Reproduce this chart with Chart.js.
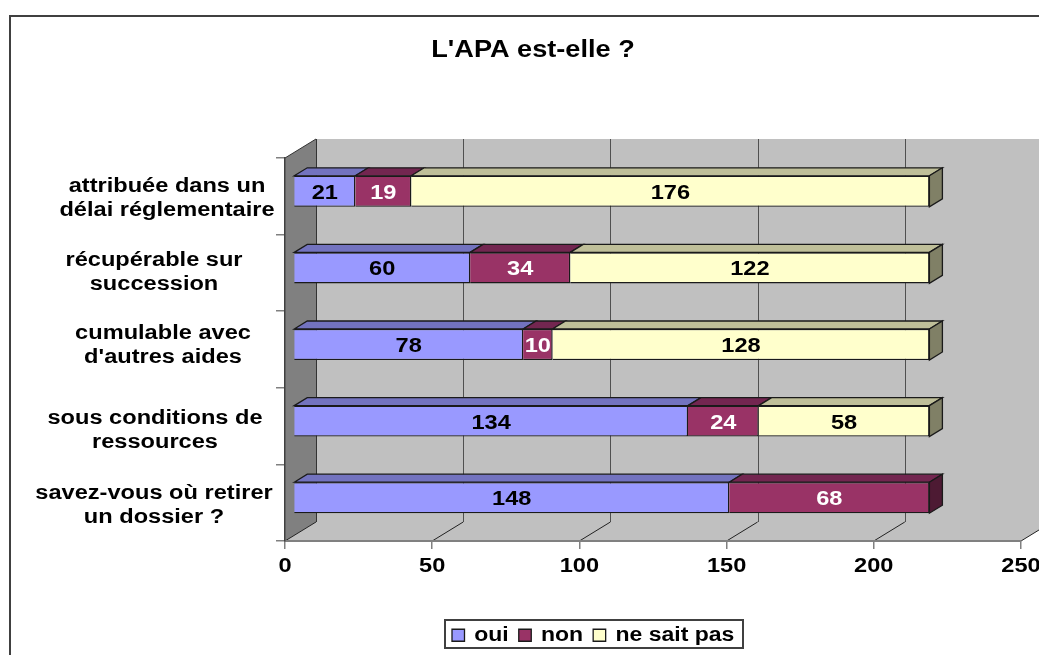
<!DOCTYPE html>
<html><head><meta charset="utf-8">
<style>html,body{margin:0;padding:0;background:#fff;overflow:hidden}canvas{display:block}</style>
<script src="https://cdn.jsdelivr.net/npm/chart.js@4"></script>
</head><body><div style="width:1039px;height:655px"><canvas id="c" width="1039" height="655"></canvas></div>
<script>
const categories = [
  ["attribuée dans un","délai réglementaire"],
  ["récupérable sur","succession"],
  ["cumulable avec","d'autres aides"],
  ["sous conditions de","ressources"],
  ["savez-vous où retirer","un dossier ?"]
];
const oui = [21,60,78,134,148];
const non = [19,34,10,24,68];
const neSaitPas = [176,122,128,58,null];
const xTicks = [0,50,100,150,200,250];

// presentation
const FF = '"Liberation Sans", Arial, sans-serif';
const FS = 20;
const STRETCH = 1.18;
const labelCx = [167,154,163,155,154];
const labelCy = [198.5,272.5,345.5,430.5,505.5];
const WALL = {dx:31, dy:-19};
const BAR = {ox:8.5, oy:-5, dx:13, dy:-8};

const canvas = document.getElementById('c');
const ctx = canvas.getContext('2d');
const rawFill = ctx.fillText.bind(ctx), rawMeasure = ctx.measureText.bind(ctx);
ctx.fillText = (t,x,y)=>{ctx.save();ctx.translate(x,y);ctx.scale(STRETCH,1);rawFill(t,0,0);ctx.restore();};
ctx.measureText = t=>({width:rawMeasure(t).width*STRETCH});

function poly(c,pts,fill,stroke,lw){
  c.beginPath();pts.forEach((p,i)=>i?c.lineTo(p[0],p[1]):c.moveTo(p[0],p[1]));c.closePath();
  if(fill){c.fillStyle=fill;c.fill();}
  if(stroke){c.strokeStyle=stroke;c.lineWidth=lw||1;c.stroke();}
}
const threeD = {
  id:'threeD',
  afterLayout(ch){
    const l=ch.legend; l.left=442; l.right=1039; l.top=615.5;
    const t=ch.titleBlock; t.left=430; t.right=636;
  },
  beforeDraw(ch){
    const c=ch.ctx,a=ch.chartArea,xs=ch.scales.x,ys=ch.scales.y;
    c.save();
    c.fillStyle='#fff';c.fillRect(0,0,ch.width,ch.height);
    c.strokeStyle='#404040';c.lineWidth=2;c.strokeRect(10,16,1100,700);
    const bx=a.left+WALL.dx, by=a.bottom+WALL.dy, ty=a.top+WALL.dy, rx=a.right+WALL.dx;
    poly(c,[[bx,ty],[rx,ty],[rx,by],[bx,by]],'#C0C0C0');
    poly(c,[[a.left,a.bottom],[bx,by],[rx,by],[a.right,a.bottom]],'#C0C0C0');
    poly(c,[[a.left,a.top],[bx,ty],[bx,by],[a.left,a.bottom]],'#808080');
    xs.ticks.forEach((t,i)=>{
      const x=xs.getPixelForTick(i);
      c.strokeStyle= i===0 ? '#333':'#505050';c.lineWidth=1;
      c.beginPath();c.moveTo(Math.round(x+WALL.dx)+.5,ty);c.lineTo(Math.round(x+WALL.dx)+.5,by);c.stroke();
      c.strokeStyle='#222';
      c.beginPath();c.moveTo(x+WALL.dx,by);c.lineTo(x,a.bottom);c.stroke();
    });
    c.strokeStyle='#333';c.lineWidth=1;
    c.beginPath();c.moveTo(a.left,a.top);c.lineTo(bx,ty);c.stroke();
    // legend frame
    c.fillStyle='#fff';c.fillRect(445,620,298,28);
    c.strokeStyle='#404040';c.lineWidth=2;c.strokeRect(445,620,298,28);
    c.restore();
    ys.getLabelItems().forEach((it,i)=>{
      it.options.textAlign='center';
      it.options.translation=[labelCx[i],labelCy[i]];
    });
  },
  beforeDatasetsDraw(ch){
    const c=ch.ctx;
    c.save();
    c.translate(BAR.ox,BAR.oy);
    const tops=['#7373BF','#732650','#BFBF99'], sides=['#4D4D80','#4D1A33','#808066'];
    categories.forEach((_,row)=>{
      let last=-1;
      ch.data.datasets.forEach((ds,d)=>{
        if(ds.data[row]==null) return; last=d;
        const b=ch.getDatasetMeta(d).data[row], y0=b.y-b.height/2;
        poly(c,[[b.base,y0],[b.base+BAR.dx,y0+BAR.dy],[b.x+BAR.dx,y0+BAR.dy],[b.x,y0]],tops[d],'#1a1a1a',1.3);
      });
      const b=ch.getDatasetMeta(last).data[row], y0=b.y-b.height/2, y1=b.y+b.height/2;
      poly(c,[[b.x,y0],[b.x+BAR.dx,y0+BAR.dy],[b.x+BAR.dx,y1+BAR.dy],[b.x,y1]],sides[last],'#1a1a1a',1.3);
    });
  },
  afterDatasetsDraw(ch){
    const c=ch.ctx;
    c.font='bold '+FS+'px '+FF;c.textAlign='center';c.textBaseline='middle';
    ch.data.datasets.forEach((ds,d)=>{
      ch.getDatasetMeta(d).data.forEach((b,row)=>{
        if(ds.data[row]==null) return;
        c.fillStyle = d===1 ? '#fff':'#000';
        c.fillText(String(ds.data[row]),(b.x+b.base)/2,b.y+2);
      });
    });
    c.restore();
  }
};

new Chart(canvas,{
  type:'bar',
  plugins:[threeD],
  data:{labels:categories,datasets:[
    {label:'oui',data:oui,backgroundColor:'#9999FF'},
    {label:'non',data:non,backgroundColor:'#993366'},
    {label:'ne sait pas',data:neSaitPas,backgroundColor:'#FFFFCC'}
  ].map(d=>Object.assign(d,{borderColor:'#1a1a1a',borderWidth:1.3,barPercentage:0.405,categoryPercentage:1,clip:false}))},
  options:{
    indexAxis:'y',responsive:false,animation:false,
    layout:{autoPadding:false,padding:{left:0,right:18,top:0,bottom:0}},
    plugins:{
      tooltip:{enabled:false},
      title:{display:true,text:"L'APA est-elle ?",color:'#000',font:{family:FF,size:23,weight:'bold',lineHeight:1.2},padding:{top:37,bottom:158-37-27.6}},
      legend:{position:'bottom',align:'start',labels:{color:'#000',font:{family:FF,size:19.5,weight:'bold'},boxWidth:12.5,boxHeight:12,padding:10}}
    },
    scales:{
      x:{stacked:true,min:0,max:250,
        afterBuildTicks(s){s.ticks=xTicks.map(v=>({value:v}));},
        afterFit(s){s.height=655-541-s.chart.legend.height;s.paddingRight=0;s.paddingLeft=0;},
        border:{color:'#808080',width:2},
        grid:{drawOnChartArea:false,color:'#808080',tickLength:8,lineWidth:1.5},
        ticks:{color:'#000',padding:5,autoSkip:false,maxRotation:0,font:{family:FF,size:FS,weight:'bold'}}
      },
      y:{stacked:true,
        afterFit(s){s.width=285;},
        border:{color:'#404040',width:1.5},
        grid:{drawOnChartArea:false,color:'#808080',tickLength:9,lineWidth:1.5},
        ticks:{color:'#000',crossAlign:'center',autoSkip:false,font:{family:FF,size:FS,weight:'bold',lineHeight:1.2}}
      }
    }
  }
});
</script></body></html>
